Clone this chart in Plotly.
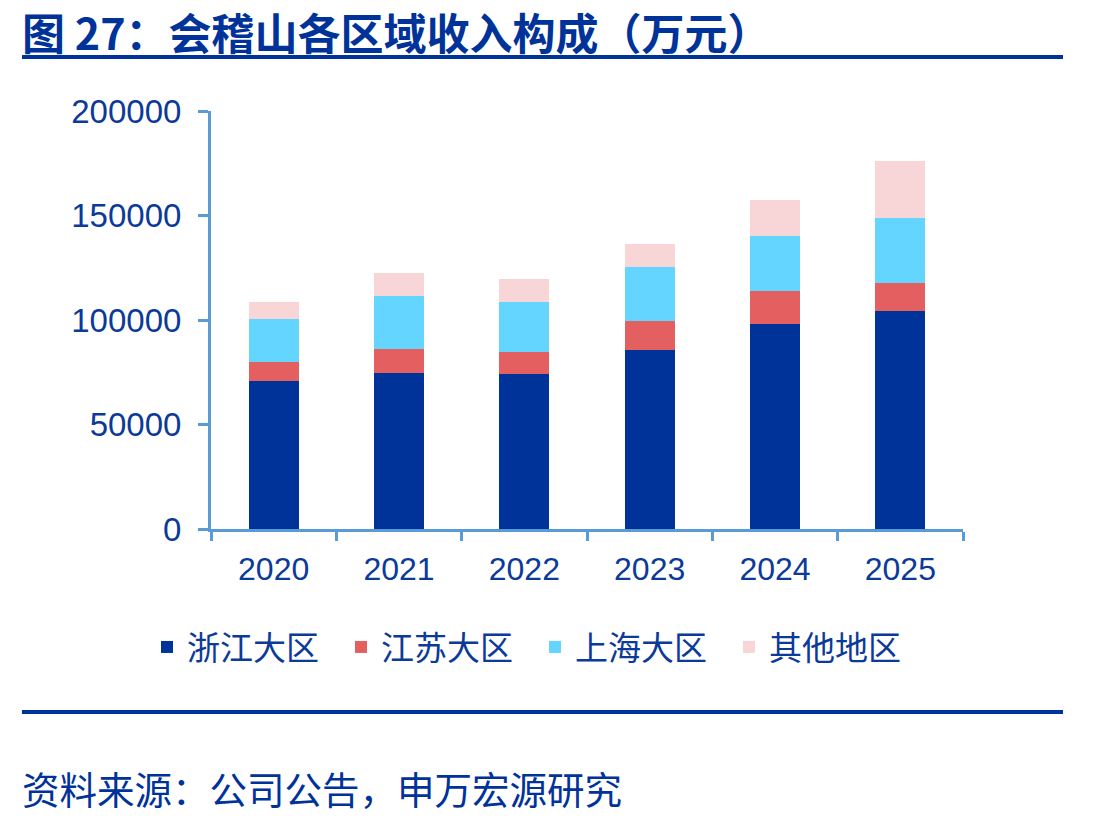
import plotly.graph_objects as go

years = ["2020", "2021", "2022", "2023", "2024", "2025"]
zhejiang = [70800, 74700, 74100, 85700, 98200, 104200]
jiangsu = [9000, 11400, 10700, 13700, 15700, 13600]
shanghai = [20600, 25300, 23700, 25900, 26200, 30900]
others = [8100, 11000, 11000, 11000, 17200, 27300]
series_names = ["浙江大区", "江苏大区", "上海大区", "其他地区"]
y_ticks = [0, 50000, 100000, 150000, 200000]

colors = ["#003399", "#E45F5F", "#63D5FF", "#F8D5D6"]
text_color = "#0B3A99"
axis_color = "#5B9BD5"
W, H = 1109, 819
L, R, T, B = 211, 963, 111, 529

def px(x):
    return (x - L) / (R - L)

def py(y):
    return (B - y) / (B - T)

fig = go.Figure()
for name, vals, c in zip(series_names, [zhejiang, jiangsu, shanghai, others], colors):
    fig.add_trace(go.Bar(x=years, y=vals, name=name, marker=dict(color=c, line=dict(width=0))))

font_fam = "Liberation Sans, Arial, Noto Sans CJK SC, sans-serif"
fig.update_layout(
    width=W, height=H,
    barmode="stack", bargap=0.6,
    plot_bgcolor="white", paper_bgcolor="white",
    margin=dict(l=L, r=W - R, t=T, b=H - B),
    font=dict(family=font_fam, color=text_color, size=32),
    showlegend=True,
    legend=dict(orientation="h", x=px(147), xanchor="left", y=py(647), yanchor="middle",
                font=dict(size=33, family="Noto Sans CJK SC, sans-serif", color=text_color),
                entrywidth=149, entrywidthmode="pixels", traceorder="normal",
                itemclick=False),
)
fig.update_xaxes(
    type="category", showline=True, linecolor=axis_color, linewidth=3,
    ticks="outside", tickson="boundaries", ticklen=9, tickwidth=3, tickcolor=axis_color,
    showgrid=False, tickfont=dict(size=32, color=text_color), ticklabelstandoff=10,
)
fig.update_yaxes(
    range=[0, 200000], tickvals=y_ticks, tickformat="d",
    showline=True, linecolor=axis_color, linewidth=3,
    ticks="outside", ticklen=10, tickwidth=3, tickcolor=axis_color,
    showgrid=False, zeroline=False, tickfont=dict(size=33, color=text_color), ticklabelstandoff=10,
)

fig.add_annotation(text="<b>图 27：会稽山各区域收入构成（万元）</b>", xref="paper", yref="paper",
                   x=px(20), y=py(31), xanchor="left", yanchor="middle", showarrow=False,
                   font=dict(size=43, family="Noto Sans CJK SC, sans-serif", color="#003399"))
fig.add_annotation(text="资料来源：公司公告，申万宏源研究", xref="paper", yref="paper",
                   x=px(20), y=py(787), xanchor="left", yanchor="middle", showarrow=False,
                   font=dict(size=37.5, family="Noto Sans CJK SC, sans-serif", color="#003399"))
for yy in [57, 712]:
    fig.add_shape(type="line", xref="paper", yref="paper", x0=px(22), x1=px(1063), y0=py(yy), y1=py(yy),
                  line=dict(color="#003399", width=4))

fig.write_html("out.html")
